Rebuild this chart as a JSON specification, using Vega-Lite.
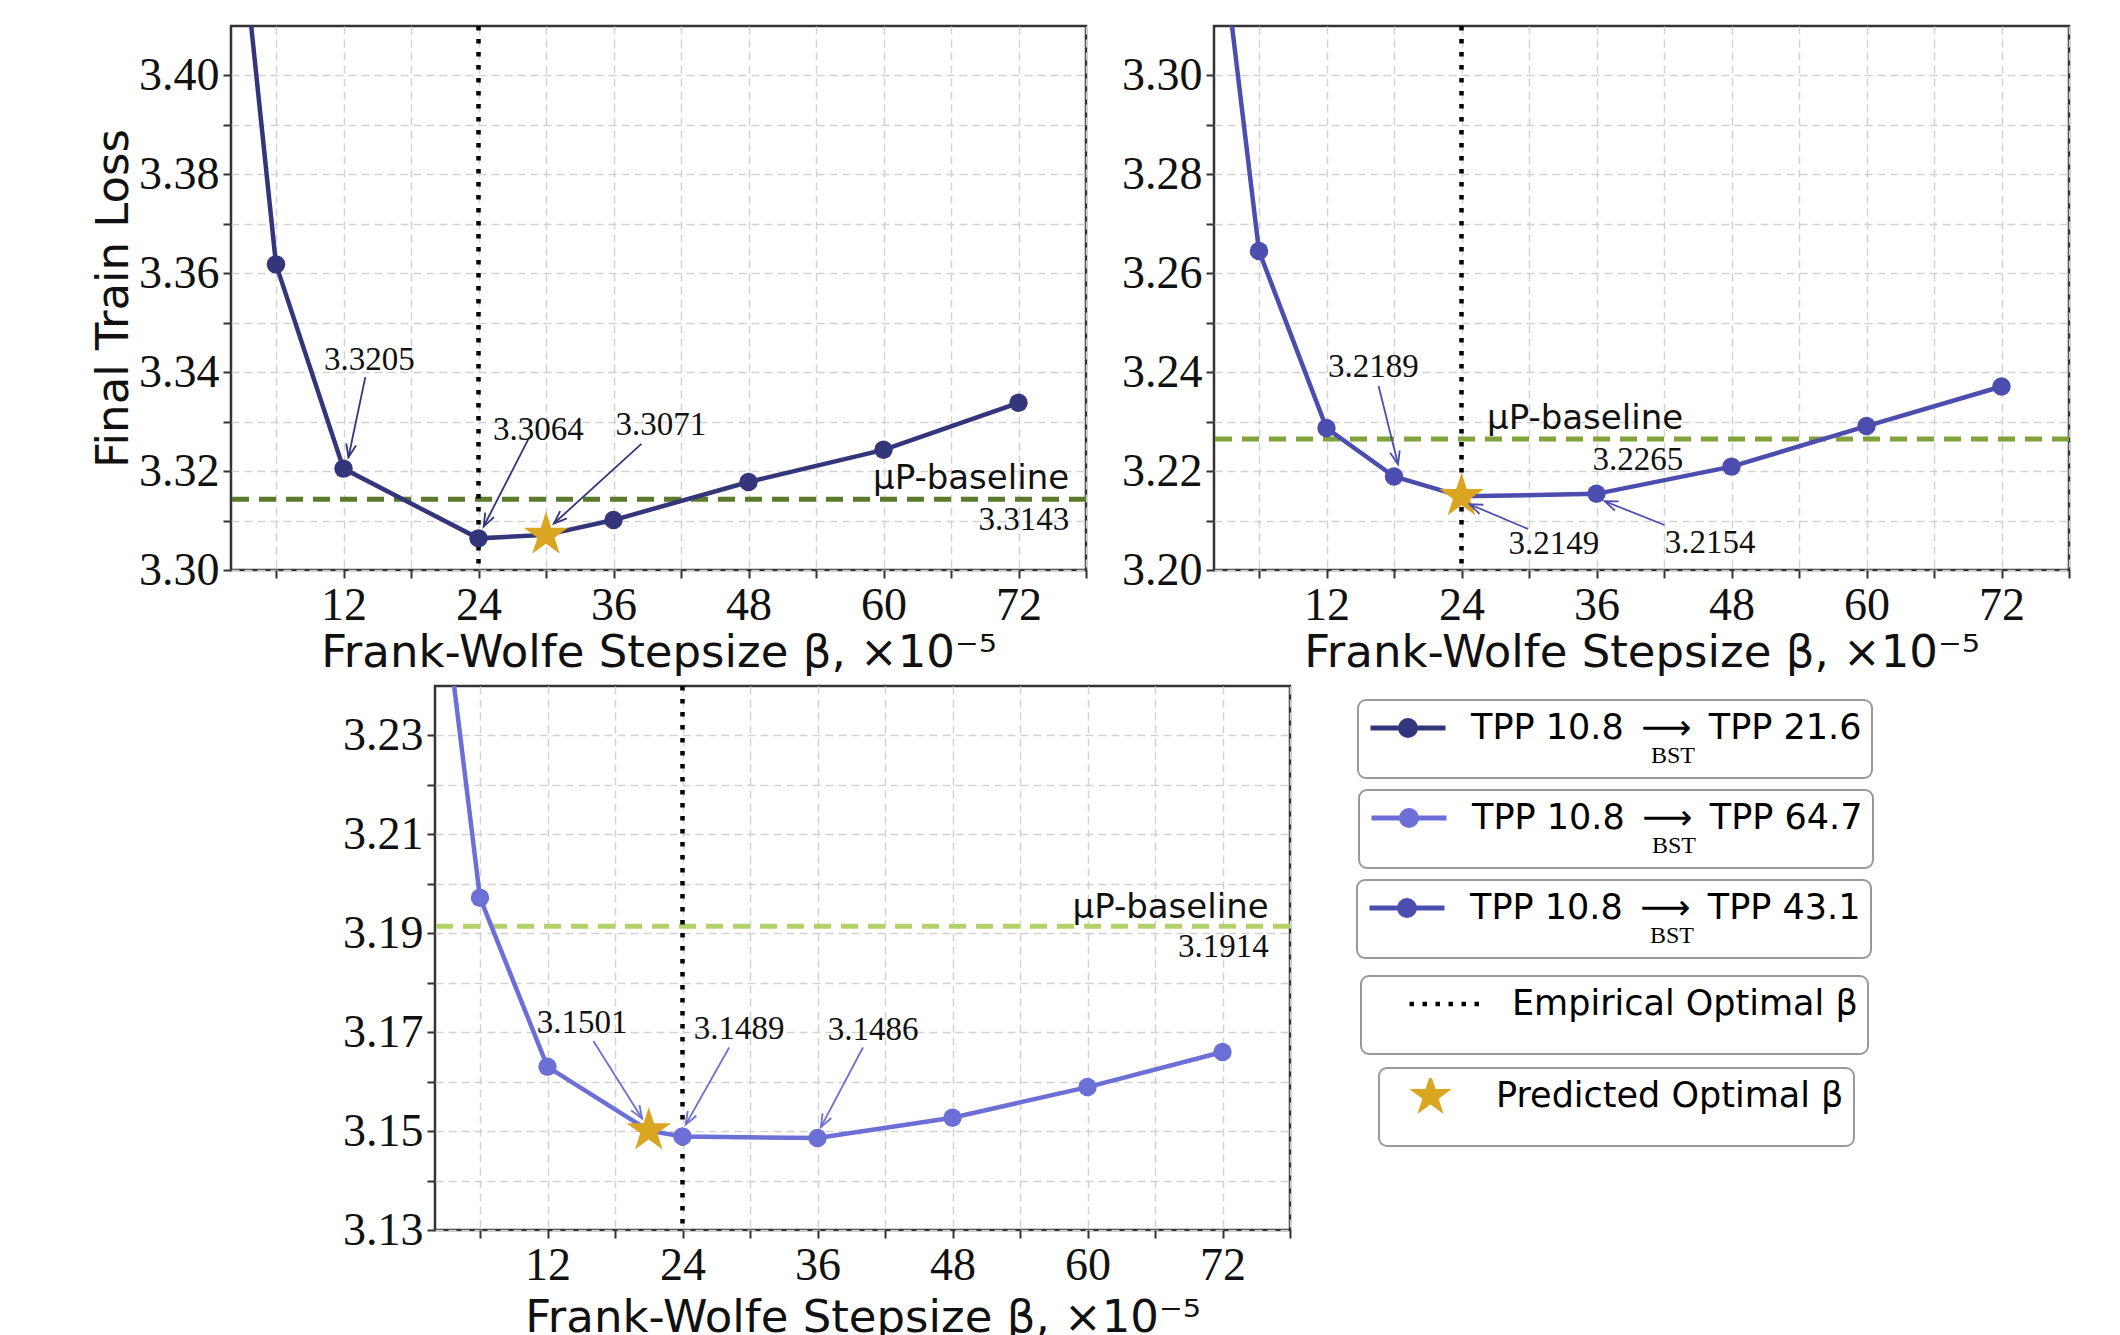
{
  "$schema": "https://vega.github.io/schema/vega-lite/v6.json",
  "background": "white",
  "padding": {"left": 90, "top": 22, "right": 0, "bottom": 0},
  "spacing": 5,
  "resolve": {
    "scale": {"x": "independent", "y": "independent", "color": "independent", "fill": "independent", "stroke": "independent", "shape": "independent", "strokeDash": "independent"},
    "legend": {"color": "independent", "fill": "independent", "stroke": "independent", "shape": "independent", "strokeDash": "independent"}
  },
  "datasets": {
    "l1": [
      {"beta": 3, "loss": 3.4274, "run": "TPP 10.8\u2002⟶\u2002TPP 21.6", "pred": false},
      {"beta": 6, "loss": 3.3618, "run": "TPP 10.8\u2002⟶\u2002TPP 21.6", "pred": false},
      {"beta": 12, "loss": 3.3205, "run": "TPP 10.8\u2002⟶\u2002TPP 21.6", "pred": false},
      {"beta": 24, "loss": 3.3064, "run": "TPP 10.8\u2002⟶\u2002TPP 21.6", "pred": false},
      {"beta": 30, "loss": 3.3071, "run": "TPP 10.8\u2002⟶\u2002TPP 21.6", "pred": true},
      {"beta": 36, "loss": 3.3101, "run": "TPP 10.8\u2002⟶\u2002TPP 21.6", "pred": false},
      {"beta": 48, "loss": 3.3178, "run": "TPP 10.8\u2002⟶\u2002TPP 21.6", "pred": false},
      {"beta": 60, "loss": 3.3243, "run": "TPP 10.8\u2002⟶\u2002TPP 21.6", "pred": false},
      {"beta": 72, "loss": 3.3338, "run": "TPP 10.8\u2002⟶\u2002TPP 21.6", "pred": false}
    ],
    "l2": [
      {"beta": 3, "loss": 3.3214, "run": "TPP 10.8\u2002⟶\u2002TPP 43.1", "pred": false},
      {"beta": 6, "loss": 3.2645, "run": "TPP 10.8\u2002⟶\u2002TPP 43.1", "pred": false},
      {"beta": 12, "loss": 3.2287, "run": "TPP 10.8\u2002⟶\u2002TPP 43.1", "pred": false},
      {"beta": 18, "loss": 3.2189, "run": "TPP 10.8\u2002⟶\u2002TPP 43.1", "pred": false},
      {"beta": 24, "loss": 3.2149, "run": "TPP 10.8\u2002⟶\u2002TPP 43.1", "pred": true},
      {"beta": 36, "loss": 3.2154, "run": "TPP 10.8\u2002⟶\u2002TPP 43.1", "pred": false},
      {"beta": 48, "loss": 3.2209, "run": "TPP 10.8\u2002⟶\u2002TPP 43.1", "pred": false},
      {"beta": 60, "loss": 3.2291, "run": "TPP 10.8\u2002⟶\u2002TPP 43.1", "pred": false},
      {"beta": 72, "loss": 3.2371, "run": "TPP 10.8\u2002⟶\u2002TPP 43.1", "pred": false}
    ],
    "l3": [
      {"beta": 3, "loss": 3.253, "run": "TPP 10.8\u2002⟶\u2002TPP 64.7", "pred": false},
      {"beta": 6, "loss": 3.1972, "run": "TPP 10.8\u2002⟶\u2002TPP 64.7", "pred": false},
      {"beta": 12, "loss": 3.163, "run": "TPP 10.8\u2002⟶\u2002TPP 64.7", "pred": false},
      {"beta": 21, "loss": 3.1501, "run": "TPP 10.8\u2002⟶\u2002TPP 64.7", "pred": true},
      {"beta": 24, "loss": 3.1489, "run": "TPP 10.8\u2002⟶\u2002TPP 64.7", "pred": false},
      {"beta": 36, "loss": 3.1486, "run": "TPP 10.8\u2002⟶\u2002TPP 64.7", "pred": false},
      {"beta": 48, "loss": 3.1527, "run": "TPP 10.8\u2002⟶\u2002TPP 64.7", "pred": false},
      {"beta": 60, "loss": 3.1589, "run": "TPP 10.8\u2002⟶\u2002TPP 64.7", "pred": false},
      {"beta": 72, "loss": 3.166, "run": "TPP 10.8\u2002⟶\u2002TPP 64.7", "pred": false}
    ],
    "b1": [{"loss": 3.3143}],
    "b2": [{"loss": 3.2265}],
    "b3": [{"loss": 3.1914}],
    "vl": [{"beta": 24, "kind": "Empirical Optimal β"}],
    "a1": [
      {"tx": 14.3, "ty": 3.3424, "label": "3.3205", "ax": 13.94, "ay": 3.339, "bx": 12.44, "by": 3.3228},
      {"tx": 29.33, "ty": 3.3284, "label": "3.3064", "ax": 28.51, "ay": 3.3268, "bx": 24.46, "by": 3.3088},
      {"tx": 40.22, "ty": 3.3293, "label": "3.3071", "ax": 38.48, "ay": 3.3255, "bx": 30.7, "by": 3.3094}
    ],
    "a2": [
      {"tx": 16.17, "ty": 3.241, "label": "3.2189", "ax": 16.63, "ay": 3.2372, "bx": 18.36, "by": 3.2214},
      {"tx": 32.22, "ty": 3.2052, "label": "3.2149", "ax": 29.91, "ay": 3.2083, "bx": 24.71, "by": 3.2133},
      {"tx": 46.09, "ty": 3.2055, "label": "3.2154", "ax": 42.04, "ay": 3.2091, "bx": 36.73, "by": 3.2139}
    ],
    "a3": [
      {"tx": 15.08, "ty": 3.1718, "label": "3.1501", "ax": 16.08, "ay": 3.1682, "bx": 20.42, "by": 3.1525},
      {"tx": 29.04, "ty": 3.1707, "label": "3.1489", "ax": 28.15, "ay": 3.1669, "bx": 24.28, "by": 3.1513},
      {"tx": 40.94, "ty": 3.1704, "label": "3.1486", "ax": 40.04, "ay": 3.1669, "bx": 36.3, "by": 3.1508}
    ]
  },
  "vconcat": [
    {
      "columns": 2, "spacing": 30, "align": "none",
      "concat": [
        {
          "width": 855, "height": 544,
          "layer": [
            {"data": {"name": "b1"}, "mark": {"type": "rule", "color": "#5b7a2c", "strokeWidth": 5, "strokeDash": [17, 10]},
             "encoding": {"y": {"field": "loss", "type": "quantitative", "scale": {"domain": [3.30, 3.41], "nice": false, "zero": false}}}},
            {"data": {"name": "b1"}, "mark": {"type": "text", "font": "DejaVu Sans", "fontSize": 34, "align": "right", "baseline": "middle", "color": "#111", "text": "μP-baseline"},
             "encoding": {"x": {"datum": 76.5, "type": "quantitative", "scale": {"domain": [2, 78], "nice": false, "zero": false}}, "y": {"datum": 3.3184, "type": "quantitative", "scale": {"domain": [3.30, 3.41], "nice": false, "zero": false}}}},
            {"data": {"name": "b1"}, "mark": {"type": "text", "font": "Liberation Serif", "fontSize": 33, "align": "right", "baseline": "middle", "color": "#111"},
             "encoding": {"x": {"datum": 76.5, "type": "quantitative", "scale": {"domain": [2, 78], "nice": false, "zero": false}}, "y": {"datum": 3.3101, "type": "quantitative", "scale": {"domain": [3.30, 3.41], "nice": false, "zero": false}}, "text": {"field": "loss", "type": "quantitative", "format": ".4f"}}},
            {"data": {"name": "vl"}, "mark": {"type": "rule", "color": "#000", "strokeWidth": 4.5, "strokeDash": [4.5, 8.5]},
             "encoding": {"x": {"field": "beta", "type": "quantitative", "scale": {"domain": [2, 78], "nice": false, "zero": false}}}},
            {"data": {"name": "l1"}, "mark": {"type": "line", "strokeWidth": 4.5, "clip": true, "color": "#33367a"},
             "encoding": {
               "x": {"field": "beta", "type": "quantitative", "scale": {"domain": [2, 78], "nice": false, "zero": false},
                     "axis": {"values": [6, 12, 18, 24, 30, 36, 42, 48, 54, 60, 66, 72, 78], "labelExpr": "datum.value % 12 == 0 ? datum.label : ''", "title": "Frank-Wolfe Stepsize β, ×10⁻⁵", "titlePadding": 2}},
               "y": {"field": "loss", "type": "quantitative", "scale": {"domain": [3.30, 3.41], "nice": false, "zero": false},
                     "axis": {"values": [3.30, 3.31, 3.32, 3.33, 3.34, 3.35, 3.36, 3.37, 3.38, 3.39, 3.40], "labelExpr": "round(datum.value*100) % 2 == 0 ? format(datum.value, '.2f') : ''", "title": "Final Train Loss"}}
             }},
            {"data": {"name": "l1"}, "transform": [{"filter": "!datum.pred"}], "mark": {"type": "point", "filled": true, "size": 340, "color": "#33367a", "opacity": 1, "clip": true},
             "encoding": {"x": {"field": "beta", "type": "quantitative", "scale": {"domain": [2, 78], "nice": false, "zero": false}}, "y": {"field": "loss", "type": "quantitative", "scale": {"domain": [3.30, 3.41], "nice": false, "zero": false}}}},
            {"data": {"name": "l1"}, "transform": [{"filter": "datum.pred"}], "mark": {"type": "point", "filled": true, "size": 2200, "color": "#daa520", "opacity": 1, "shape": "M0,-1L0.2245,-0.309L0.951,-0.309L0.3633,0.118L0.588,0.809L0,0.382L-0.588,0.809L-0.3633,0.118L-0.951,-0.309L-0.2245,-0.309Z"},
             "encoding": {"x": {"field": "beta", "type": "quantitative", "scale": {"domain": [2, 78], "nice": false, "zero": false}}, "y": {"field": "loss", "type": "quantitative", "scale": {"domain": [3.30, 3.41], "nice": false, "zero": false}}}},
            {"data": {"name": "a1"}, "mark": {"type": "rule", "color": "#33367a", "strokeWidth": 1.8},
             "encoding": {"x": {"field": "ax", "type": "quantitative", "scale": {"domain": [2, 78], "nice": false, "zero": false}}, "y": {"field": "ay", "type": "quantitative", "scale": {"domain": [3.30, 3.41], "nice": false, "zero": false}}, "x2": {"field": "bx"}, "y2": {"field": "by"}}},
            {"data": {"name": "a1"}, "transform": [{"calculate": "atan2((datum.bx-datum.ax)*11.263, (datum.by-datum.ay)*4945)*180/PI", "as": "ang"}],
             "mark": {"type": "point", "shape": "M-0.38,1L0,0L0.38,1", "filled": false, "size": 676, "strokeWidth": 1.8, "color": "#33367a", "opacity": 1},
             "encoding": {"x": {"field": "bx", "type": "quantitative", "scale": {"domain": [2, 78], "nice": false, "zero": false}}, "y": {"field": "by", "type": "quantitative", "scale": {"domain": [3.30, 3.41], "nice": false, "zero": false}}, "angle": {"field": "ang", "type": "quantitative", "scale": null}}},
            {"data": {"name": "a1"}, "mark": {"type": "text", "font": "Liberation Serif", "fontSize": 33, "color": "#111", "baseline": "middle"},
             "encoding": {"x": {"field": "tx", "type": "quantitative", "scale": {"domain": [2, 78], "nice": false, "zero": false}}, "y": {"field": "ty", "type": "quantitative", "scale": {"domain": [3.30, 3.41], "nice": false, "zero": false}}, "text": {"field": "label"}}}
          ]
        },
        {
          "width": 855, "height": 544,
          "layer": [
            {"data": {"name": "b2"}, "mark": {"type": "rule", "color": "#7fa33a", "strokeWidth": 5, "strokeDash": [17, 10]},
             "encoding": {"y": {"field": "loss", "type": "quantitative", "scale": {"domain": [3.20, 3.31], "nice": false, "zero": false}}}},
            {"data": {"name": "b2"}, "mark": {"type": "text", "font": "DejaVu Sans", "fontSize": 34, "align": "right", "baseline": "middle", "color": "#111", "text": "μP-baseline"},
             "encoding": {"x": {"datum": 43.7, "type": "quantitative", "scale": {"domain": [2, 78], "nice": false, "zero": false}}, "y": {"datum": 3.2305, "type": "quantitative", "scale": {"domain": [3.20, 3.31], "nice": false, "zero": false}}}},
            {"data": {"name": "b2"}, "mark": {"type": "text", "font": "Liberation Serif", "fontSize": 33, "align": "right", "baseline": "middle", "color": "#111"},
             "encoding": {"x": {"datum": 43.7, "type": "quantitative", "scale": {"domain": [2, 78], "nice": false, "zero": false}}, "y": {"datum": 3.2223, "type": "quantitative", "scale": {"domain": [3.20, 3.31], "nice": false, "zero": false}}, "text": {"field": "loss", "type": "quantitative", "format": ".4f"}}},
            {"data": {"name": "vl"}, "mark": {"type": "rule", "color": "#000", "strokeWidth": 4.5, "strokeDash": [4.5, 8.5]},
             "encoding": {"x": {"field": "beta", "type": "quantitative", "scale": {"domain": [2, 78], "nice": false, "zero": false}}}},
            {"data": {"name": "l2"}, "mark": {"type": "line", "strokeWidth": 4.5, "clip": true, "color": "#4b4eae"},
             "encoding": {
               "x": {"field": "beta", "type": "quantitative", "scale": {"domain": [2, 78], "nice": false, "zero": false},
                     "axis": {"values": [6, 12, 18, 24, 30, 36, 42, 48, 54, 60, 66, 72, 78], "labelExpr": "datum.value % 12 == 0 ? datum.label : ''", "title": "Frank-Wolfe Stepsize β, ×10⁻⁵", "titlePadding": 2}},
               "y": {"field": "loss", "type": "quantitative", "scale": {"domain": [3.20, 3.31], "nice": false, "zero": false},
                     "axis": {"values": [3.20, 3.21, 3.22, 3.23, 3.24, 3.25, 3.26, 3.27, 3.28, 3.29, 3.30], "labelExpr": "round(datum.value*100) % 2 == 0 ? format(datum.value, '.2f') : ''", "title": null}}
             }},
            {"data": {"name": "l2"}, "transform": [{"filter": "!datum.pred"}], "mark": {"type": "point", "filled": true, "size": 340, "color": "#4b4eae", "opacity": 1, "clip": true},
             "encoding": {"x": {"field": "beta", "type": "quantitative", "scale": {"domain": [2, 78], "nice": false, "zero": false}}, "y": {"field": "loss", "type": "quantitative", "scale": {"domain": [3.20, 3.31], "nice": false, "zero": false}}}},
            {"data": {"name": "l2"}, "transform": [{"filter": "datum.pred"}], "mark": {"type": "point", "filled": true, "size": 2200, "color": "#daa520", "opacity": 1, "shape": "M0,-1L0.2245,-0.309L0.951,-0.309L0.3633,0.118L0.588,0.809L0,0.382L-0.588,0.809L-0.3633,0.118L-0.951,-0.309L-0.2245,-0.309Z"},
             "encoding": {"x": {"field": "beta", "type": "quantitative", "scale": {"domain": [2, 78], "nice": false, "zero": false}}, "y": {"field": "loss", "type": "quantitative", "scale": {"domain": [3.20, 3.31], "nice": false, "zero": false}}}},
            {"data": {"name": "a2"}, "mark": {"type": "rule", "color": "#4b4eae", "strokeWidth": 1.8},
             "encoding": {"x": {"field": "ax", "type": "quantitative", "scale": {"domain": [2, 78], "nice": false, "zero": false}}, "y": {"field": "ay", "type": "quantitative", "scale": {"domain": [3.20, 3.31], "nice": false, "zero": false}}, "x2": {"field": "bx"}, "y2": {"field": "by"}}},
            {"data": {"name": "a2"}, "transform": [{"calculate": "atan2((datum.bx-datum.ax)*11.263, (datum.by-datum.ay)*4945)*180/PI", "as": "ang"}],
             "mark": {"type": "point", "shape": "M-0.38,1L0,0L0.38,1", "filled": false, "size": 676, "strokeWidth": 1.8, "color": "#4b4eae", "opacity": 1},
             "encoding": {"x": {"field": "bx", "type": "quantitative", "scale": {"domain": [2, 78], "nice": false, "zero": false}}, "y": {"field": "by", "type": "quantitative", "scale": {"domain": [3.20, 3.31], "nice": false, "zero": false}}, "angle": {"field": "ang", "type": "quantitative", "scale": null}}},
            {"data": {"name": "a2"}, "mark": {"type": "text", "font": "Liberation Serif", "fontSize": 33, "color": "#111", "baseline": "middle"},
             "encoding": {"x": {"field": "tx", "type": "quantitative", "scale": {"domain": [2, 78], "nice": false, "zero": false}}, "y": {"field": "ty", "type": "quantitative", "scale": {"domain": [3.20, 3.31], "nice": false, "zero": false}}, "text": {"field": "label"}}}
          ]
        }
      ]
    },
    {
      "columns": 2, "spacing": 10, "align": "none",
      "resolve": {
        "scale": {"color": "independent", "fill": "independent", "stroke": "independent", "shape": "independent", "strokeDash": "independent"},
        "legend": {"color": "independent", "fill": "independent", "stroke": "independent", "shape": "independent", "strokeDash": "independent"}
      },
      "concat": [
        {
          "width": 100, "height": 544,
          "view": {"stroke": null},
          "data": {"values": [{}]},
          "mark": {"type": "rect", "opacity": 0},
          "encoding": {}
        },
        {
          "width": 855, "height": 544,
          "layer": [
            {"data": {"name": "b3"}, "mark": {"type": "rule", "color": "#b3d36a", "strokeWidth": 5, "strokeDash": [17, 10]},
             "encoding": {"y": {"field": "loss", "type": "quantitative", "scale": {"domain": [3.13, 3.24], "nice": false, "zero": false}}}},
            {"data": {"name": "b3"}, "mark": {"type": "text", "font": "DejaVu Sans", "fontSize": 34, "align": "right", "baseline": "middle", "color": "#111", "text": "μP-baseline"},
             "encoding": {"x": {"datum": 76.1, "type": "quantitative", "scale": {"domain": [2, 78], "nice": false, "zero": false}}, "y": {"datum": 3.1952, "type": "quantitative", "scale": {"domain": [3.13, 3.24], "nice": false, "zero": false}}}},
            {"data": {"name": "b3"}, "mark": {"type": "text", "font": "Liberation Serif", "fontSize": 33, "align": "right", "baseline": "middle", "color": "#111"},
             "encoding": {"x": {"datum": 76.1, "type": "quantitative", "scale": {"domain": [2, 78], "nice": false, "zero": false}}, "y": {"datum": 3.1872, "type": "quantitative", "scale": {"domain": [3.13, 3.24], "nice": false, "zero": false}}, "text": {"field": "loss", "type": "quantitative", "format": ".4f"}}},
            {"data": {"name": "vl"}, "mark": {"type": "rule", "color": "#000", "strokeWidth": 4.5},
             "encoding": {"x": {"field": "beta", "type": "quantitative", "scale": {"domain": [2, 78], "nice": false, "zero": false}},
                          "strokeDash": {"field": "kind", "type": "nominal", "scale": {"domain": ["Empirical Optimal β"], "range": [[4.5, 8.5]]},
                                         "legend": {"orient": "none", "legendX": 926, "legendY": 290, "title": "⠀", "symbolType": "stroke", "symbolSize": 5041, "symbolStrokeWidth": 4.5, "symbolOffset": 36, "labelOffset": 29, "symbolDash": [4.5, 8.5],
                                                    "encode": {"symbols": {"update": {"stroke": {"value": "#000"}, "strokeWidth": {"value": 4.5}, "strokeDash": {"value": [4.5, 8.5]}, "opacity": {"value": 1}}}}}}}},
            {"data": {"name": "l3"}, "mark": {"type": "line", "strokeWidth": 4.5, "clip": true},
             "encoding": {
               "x": {"field": "beta", "type": "quantitative", "scale": {"domain": [2, 78], "nice": false, "zero": false},
                     "axis": {"values": [6, 12, 18, 24, 30, 36, 42, 48, 54, 60, 66, 72, 78], "labelExpr": "datum.value % 12 == 0 ? datum.label : ''", "title": "Frank-Wolfe Stepsize β, ×10⁻⁵", "titlePadding": 7}},
               "y": {"field": "loss", "type": "quantitative", "scale": {"domain": [3.13, 3.24], "nice": false, "zero": false},
                     "axis": {"values": [3.13, 3.14, 3.15, 3.16, 3.17, 3.18, 3.19, 3.20, 3.21, 3.22, 3.23], "labelExpr": "round(datum.value*100) % 2 == 1 ? format(datum.value, '.2f') : ''", "title": null}},
               "color": {"field": "run", "type": "nominal", "scale": {"domain": ["TPP 10.8\u2002⟶\u2002TPP 64.7"], "range": ["#6c6fd5"]},
                         "legend": {"orient": "none", "legendX": 924, "legendY": 104, "title": "⠀⠀BST",
                                    "symbolType": "M-1,0H1M0.2,0A0.2,0.2,0,1,1,-0.2,0A0.2,0.2,0,1,1,0.2,0Z", "symbolSize": 5625, "symbolStrokeWidth": 5, "symbolOffset": 0, "labelOffset": 23,
                                    "encode": {"symbols": {"update": {"fill": {"value": "#6c6fd5"}, "stroke": {"value": "#6c6fd5"}, "strokeWidth": {"value": 5}, "opacity": {"value": 1}}}}}}
             }},
            {"data": {"name": "l1"}, "mark": {"type": "point", "opacity": 0, "filled": true},
             "encoding": {
               "fill": {"field": "run", "type": "nominal", "scale": {"domain": ["TPP 10.8\u2002⟶\u2002TPP 21.6"], "range": ["#33367a"]},
                        "legend": {"orient": "none", "legendX": 923, "legendY": 14, "title": "⠀⠀BST",
                                   "symbolType": "M-1,0H1M0.2,0A0.2,0.2,0,1,1,-0.2,0A0.2,0.2,0,1,1,0.2,0Z", "symbolSize": 5625, "symbolStrokeWidth": 5, "symbolOffset": 0, "labelOffset": 23,
                                   "encode": {"symbols": {"update": {"fill": {"value": "#33367a"}, "stroke": {"value": "#33367a"}, "strokeWidth": {"value": 5}, "opacity": {"value": 1}}}}}}
             }},
            {"data": {"name": "l2"}, "mark": {"type": "point", "opacity": 0, "filled": true, "fill": "#4b4eae"},
             "encoding": {
               "stroke": {"field": "run", "type": "nominal", "scale": {"domain": ["TPP 10.8\u2002⟶\u2002TPP 43.1"], "range": ["#4b4eae"]},
                          "legend": {"orient": "none", "legendX": 922, "legendY": 194, "title": "⠀⠀BST", "symbolFillColor": "#4b4eae",
                                     "symbolType": "M-1,0H1M0.2,0A0.2,0.2,0,1,1,-0.2,0A0.2,0.2,0,1,1,0.2,0Z", "symbolSize": 5625, "symbolStrokeWidth": 5, "symbolOffset": 0, "labelOffset": 23,
                                     "encode": {"symbols": {"update": {"fill": {"value": "#4b4eae"}, "stroke": {"value": "#4b4eae"}, "strokeWidth": {"value": 5}, "opacity": {"value": 1}}}}}}
             }},
            {"data": {"name": "l3"}, "transform": [{"filter": "!datum.pred"}], "mark": {"type": "point", "filled": true, "size": 340, "color": "#6c6fd5", "opacity": 1, "clip": true},
             "encoding": {"x": {"field": "beta", "type": "quantitative", "scale": {"domain": [2, 78], "nice": false, "zero": false}}, "y": {"field": "loss", "type": "quantitative", "scale": {"domain": [3.13, 3.24], "nice": false, "zero": false}}}},
            {"data": {"name": "l3"}, "transform": [{"filter": "datum.pred"}], "mark": {"type": "point", "filled": true, "size": 2200, "color": "#daa520", "opacity": 1},
             "encoding": {"x": {"field": "beta", "type": "quantitative", "scale": {"domain": [2, 78], "nice": false, "zero": false}}, "y": {"field": "loss", "type": "quantitative", "scale": {"domain": [3.13, 3.24], "nice": false, "zero": false}},
                          "shape": {"datum": "Predicted Optimal β", "type": "nominal", "scale": {"range": ["M0,-1L0.2245,-0.309L0.951,-0.309L0.3633,0.118L0.588,0.809L0,0.382L-0.588,0.809L-0.3633,0.118L-0.951,-0.309L-0.2245,-0.309Z"]},
                                    "legend": {"orient": "none", "legendX": 944, "legendY": 382, "title": "⠀", "symbolSize": 2000, "symbolStrokeWidth": 0, "symbolOffset": 19, "labelOffset": 43,
                                               "encode": {"symbols": {"update": {"fill": {"value": "#daa520"}, "stroke": {"value": "transparent"}, "strokeWidth": {"value": 0}, "opacity": {"value": 1}}}}}}}},
            {"data": {"name": "a3"}, "mark": {"type": "rule", "color": "#6c6fd5", "strokeWidth": 1.8},
             "encoding": {"x": {"field": "ax", "type": "quantitative", "scale": {"domain": [2, 78], "nice": false, "zero": false}}, "y": {"field": "ay", "type": "quantitative", "scale": {"domain": [3.13, 3.24], "nice": false, "zero": false}}, "x2": {"field": "bx"}, "y2": {"field": "by"}}},
            {"data": {"name": "a3"}, "transform": [{"calculate": "atan2((datum.bx-datum.ax)*11.263, (datum.by-datum.ay)*4945)*180/PI", "as": "ang"}],
             "mark": {"type": "point", "shape": "M-0.38,1L0,0L0.38,1", "filled": false, "size": 676, "strokeWidth": 1.8, "color": "#6c6fd5", "opacity": 1},
             "encoding": {"x": {"field": "bx", "type": "quantitative", "scale": {"domain": [2, 78], "nice": false, "zero": false}}, "y": {"field": "by", "type": "quantitative", "scale": {"domain": [3.13, 3.24], "nice": false, "zero": false}}, "angle": {"field": "ang", "type": "quantitative", "scale": null}}},
            {"data": {"name": "a3"}, "mark": {"type": "text", "font": "Liberation Serif", "fontSize": 33, "color": "#111", "baseline": "middle"},
             "encoding": {"x": {"field": "tx", "type": "quantitative", "scale": {"domain": [2, 78], "nice": false, "zero": false}}, "y": {"field": "ty", "type": "quantitative", "scale": {"domain": [3.13, 3.24], "nice": false, "zero": false}}, "text": {"field": "label"}}}
          ]
        }
      ]
    }
  ],
  "config": {
    "view": {"stroke": "#333333", "strokeWidth": 2.5},
    "axis": {"domain": false, "grid": true, "gridColor": "#d2d2d2", "gridDash": [8, 5], "gridWidth": 1.5, "ticks": true, "tickColor": "#333333", "tickWidth": 2, "tickSize": 8,
             "labelFont": "Liberation Serif", "labelFontSize": 46, "labelColor": "#111", "labelOverlap": false, "labelFlush": false,
             "titleFont": "DejaVu Sans", "titleFontSize": 45, "titleFontWeight": "normal", "titleColor": "#111"},
    "axisX": {"labelPadding": 5},
    "axisY": {"labelPadding": 4, "titlePadding": 2},
    "legend": {"labelFont": "DejaVu Sans", "labelFontSize": 35, "labelColor": "#000", "labelLimit": 1000,
               "titleFont": "Liberation Serif", "titleFontSize": 24, "titleFontWeight": "normal", "titleColor": "#000",
               "titleOrient": "bottom", "titleAnchor": "middle", "titleAlign": "left", "titlePadding": -2, "titleLimit": 1000,
               "padding": 10, "strokeColor": "#9a9a9a", "strokeWidth": 2, "cornerRadius": 8, "fillColor": "#ffffff", "clipHeight": 36}
  }
}
